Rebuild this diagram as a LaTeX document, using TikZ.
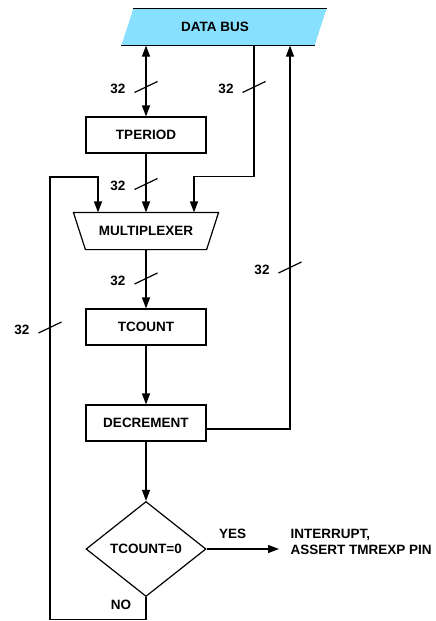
\documentclass[tikz,border=0pt]{standalone}
\usepackage{fontspec}
\setmainfont{Liberation Sans}
\usepackage{tikz}
\usetikzlibrary{arrows.meta,positioning,shapes.geometric}

\definecolor{buscyan}{RGB}{136,224,255}

\tikzset{
  block/.style={draw,rectangle,minimum width=120pt,minimum height=36pt,inner sep=0pt},
  muxbox/.style={rectangle,minimum width=120pt,minimum height=36pt,inner sep=0pt},
  busbox/.style={rectangle,minimum width=180pt,minimum height=36pt,inner sep=0pt},
  decision/.style={draw,diamond,minimum width=120pt,minimum height=95pt,inner sep=0pt},
  buslabel/.style={inner sep=0pt},
}

\newcommand{\busslash}[1]{%
  \draw ([xshift=-11.5pt,yshift=-5.5pt]#1) -- ([xshift=11.5pt,yshift=5.5pt]#1);
  \node[buslabel] at ([xshift=-28pt,yshift=-2pt]#1) {32};}

\begin{document}
\begin{tikzpicture}[x=1pt,y=-1pt,node distance=96pt,on grid,line width=1.2pt,
    >={Triangle[length=11pt,width=8pt]},
    font=\fontsize{13.5}{16}\selectfont\bfseries]
    \useasboundingbox (0,0) rectangle (436,621);
    \node[busbox] (bus)              at (224,27)      {};
    \node[block] (tperiod)           at (146,135)     {TPERIOD};
    \node[muxbox] (mux)              [below=of tperiod] {};
    \node[block] (tcount)            [below=of mux]     {TCOUNT};
    \node[block] (decrement)         [below=of tcount]  {DECREMENT};
    \node[decision] (zero)           [below=126pt of decrement] {TCOUNT=0};
    \node[align=left,anchor=west,inner xsep=11pt,inner ysep=0pt] (irq)
        at (279,542) {INTERRUPT,\\ASSERT TMREXP PIN};
    % data bus and multiplexer outlines
    \fill[buscyan] (bus.north west) -- ([xshift=12pt]bus.north east)
        -- (bus.south east) -- ([xshift=-12pt]bus.south west) -- cycle;
    \draw (bus.north west) -- ([xshift=12pt]bus.north east);
    \draw ([xshift=-12pt]bus.south west) -- (bus.south east);
    \node at ([xshift=-9pt]bus.center) {DATA BUS};
    \draw ([xshift=-12pt]mux.north west) -- ([xshift=12pt]mux.north east)
        -- (mux.south east) -- (mux.south west) -- cycle;
    \node at (mux) {MULTIPLEXER};
    % helper points
    \coordinate (muxleft)  at ([xshift=-48pt]mux.north);
    \coordinate (muxright) at ([xshift=48pt]mux.north);
    \coordinate (turn)     at ([yshift=36pt]muxright);
    \coordinate (busout)   at ([xshift=30pt]bus.south);
    \coordinate (busin)    at ([xshift=66pt]bus.south);
    \coordinate (loop)     at ([yshift=-22.5pt]zero.south);
    \coordinate (back)     at (50,177);
    % connectors
    \draw[<->] (tperiod.north) -- (tperiod.north |- bus.south);
    \draw[->] (busout) |- (turn) -- (muxright);
    \draw[->] (tperiod) -- (mux);
    \draw[->] (mux) -- (tcount);
    \draw[->] (tcount) -- (decrement);
    \draw[->] (decrement) -- (zero);
    \draw[->] ([yshift=-6pt]decrement.east) -| (busin);
    \draw[->] (zero.east) -- node[pos=0.36,above=10pt,inner sep=0pt] {YES} (zero.east -| irq.west);
    \draw[->] (zero.south) -- (loop) -| (back) -| (muxleft);
    \node[buslabel] at ([xshift=-25pt,yshift=15pt]loop) {NO};
    % bus widths
    \busslash{146,87}
    \busslash{254,87}
    \busslash{146,184}
    \busslash{146,278.5}
    \busslash{290,267.5}
    \busslash{50,327.5}
\end{tikzpicture}
\end{document}
